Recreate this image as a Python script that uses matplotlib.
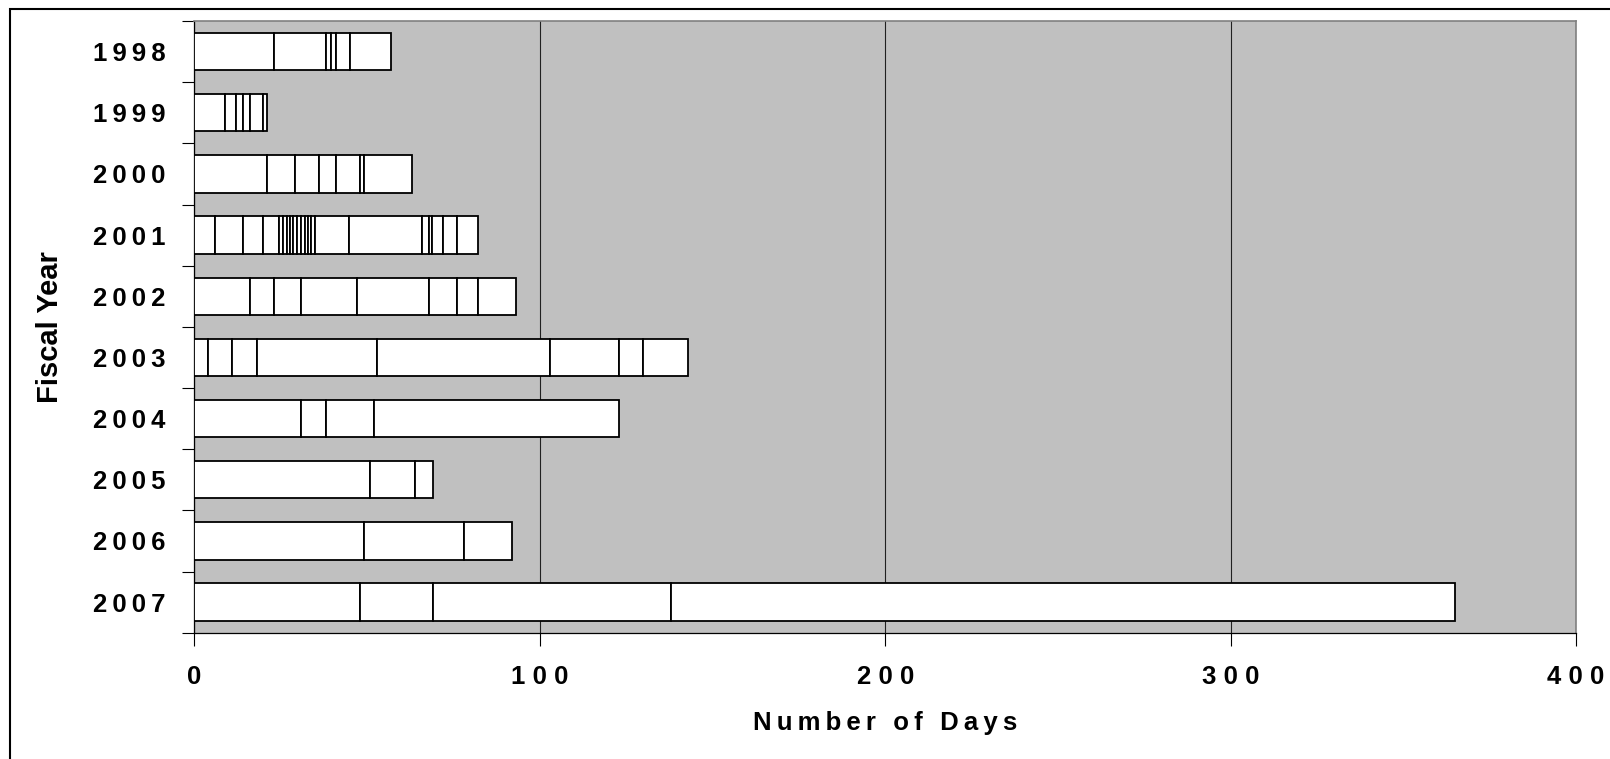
import numpy as np
import matplotlib.pyplot as plt
from matplotlib.patches import Rectangle

plt.rcParams['font.family'] = ['Liberation Sans', 'DejaVu Sans']

# Fiscal years, top to bottom
years = ['1998', '1999', '2000', '2001', '2002', '2003', '2004', '2005', '2006', '2007']

# Segment durations (days) for each fiscal year
seg_1998 = [23, 15, 1.5, 1.5, 4, 12]
seg_1999 = [9, 3, 2, 2, 4, 1]
seg_2000 = [21, 8, 7, 5, 7, 1, 14]
seg_2001 = [6, 8, 6, 4.5, 1.2, 1.1, 0.9, 0.9, 1.1, 1.2, 1, 1, 1, 1, 9.8, 21.3, 1.8, 0.9, 3.3, 4, 6]
seg_2002 = [16, 7, 8, 16, 21, 8, 6, 11]
seg_2003 = [4, 7, 7, 35, 50, 20, 7, 13]
seg_2004 = [31, 7, 14, 71]
seg_2005 = [51, 13, 5]
seg_2006 = [49, 29, 14]
seg_2007 = [48, 21, 69, 227]

segments = [seg_1998, seg_1999, seg_2000, seg_2001, seg_2002,
            seg_2003, seg_2004, seg_2005, seg_2006, seg_2007]

x_ticks = [0, 100, 200, 300, 400]


def spaced(s, sep='\u2009'):
    # fake the wide letter spacing of the original
    return sep.join(s)


fig = plt.figure(figsize=(16.1, 7.59), dpi=100)
ax = fig.add_axes([0.1207, 0.1664, 0.8582, 0.8059])
ax.set_facecolor('#C0C0C0')

for i, seg in enumerate(segments):
    seg = np.array(seg, dtype=float)
    lefts = np.concatenate([[0], np.cumsum(seg)[:-1]])
    ax.barh(np.full(len(seg), i), seg, left=lefts, height=0.61,
            color='white', edgecolor='black', linewidth=1.3, zorder=3)

ax.set_xlim(0, 400)
ax.set_ylim(len(years) - 0.5, -0.5)

# vertical gridlines
ax.set_xticks(x_ticks)
ax.xaxis.grid(True, color='#202020', linewidth=0.8, zorder=1)
ax.set_axisbelow(True)
ax.set_xticklabels([spaced(str(v), '\u2009\u200a') for v in x_ticks],
                   fontsize=18.5, fontweight='bold')
ax.tick_params(axis='x', direction='out', length=9, width=0.8, pad=14)

# y ticks: marks at category boundaries, labels at centres
ax.set_yticks(np.arange(len(years)))
ax.set_yticklabels([spaced(y) for y in years], fontsize=18.5, fontweight='bold')
ax.set_yticks(np.arange(len(years) + 1) - 0.5, minor=True)
ax.tick_params(axis='y', which='major', length=0, pad=21)
ax.tick_params(axis='y', which='minor', direction='out', length=9, width=0.8)

for side in ['top', 'right']:
    ax.spines[side].set_color('#808080')
    ax.spines[side].set_linewidth(1.2)
for side in ['left', 'bottom']:
    ax.spines[side].set_color('black')
    ax.spines[side].set_linewidth(0.9)

ax.set_xlabel(spaced('Number of Days'), fontsize=18.5, fontweight='bold', labelpad=16)
fig.text(0.031, 0.569, 'Fiscal Year', rotation=90, ha='center', va='center',
         fontsize=21, fontweight='bold')

# outer chart frame (cut off at right and bottom)
fig.patches.append(Rectangle((10, -10), 1620, 760, transform=None,
                             fill=False, edgecolor='black', linewidth=1.5))

fig.savefig('out.png', dpi=100)
